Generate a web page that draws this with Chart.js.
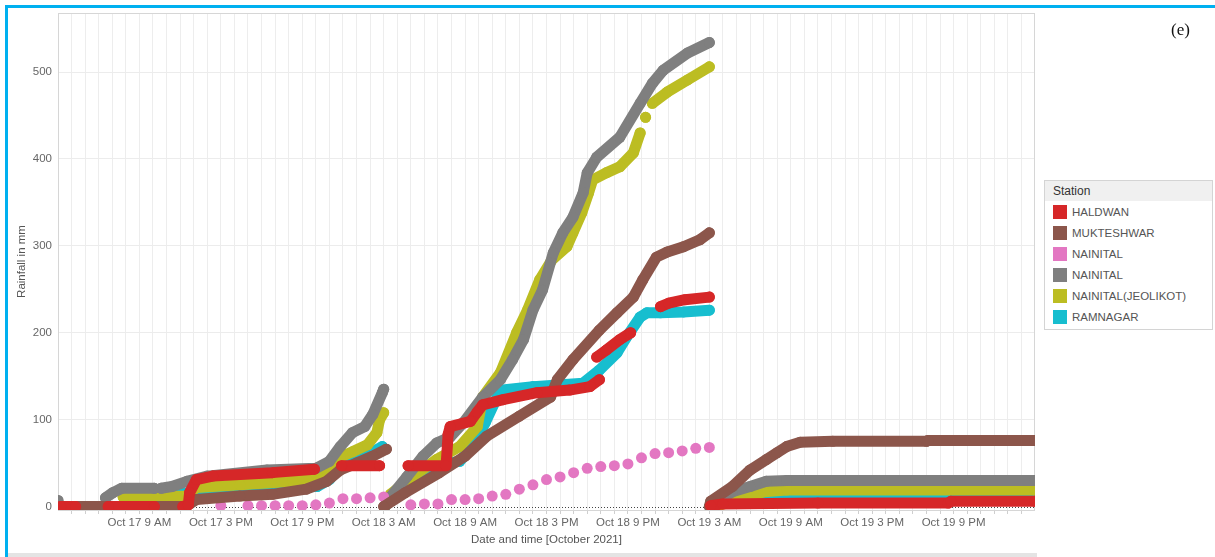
<!DOCTYPE html>
<html>
<head>
<meta charset="utf-8">
<script src="https://cdn.jsdelivr.net/npm/chart.js@4.4.1/dist/chart.umd.min.js"></script>
<style>
  html, body { margin: 0; padding: 0; background: #fff; }
  body { width: 1215px; height: 557px; position: relative; overflow: hidden; font-family: "Liberation Sans", Arial, sans-serif; }
  #frame { position: absolute; left: 5px; top: 5px; width: 1230px; height: 570px; border-top: 3px solid #00b0f0; border-left: 3px solid #00b0f0; }
  #strip { position: absolute; left: 8px; top: 553px; width: 1029px; height: 4px; background: #e4e4e4; }
  #wrap { position: absolute; left: 0; top: 0; width: 1215px; height: 557px; }
  #tag { position: absolute; left: 1171px; top: 20px; font-family: "Liberation Serif", "DejaVu Serif", serif; font-size: 17px; color: #111; }
  #legend { position: absolute; left: 1044px; top: 180px; width: 167px; border: 1px solid #d4d4d4; background: #fff; padding-bottom: 2px; }
  #legend .head { background: #f0f0f0; height: 20px; line-height: 21px; padding-left: 8px; font-size: 12px; color: #333; }
  #legend .row { height: 21px; display: flex; align-items: center; padding-left: 8px; font-size: 11.5px; color: #555; white-space: nowrap; }
  #legend .sw { width: 14px; height: 14px; margin-right: 5px; flex: none; }
</style>
</head>
<body>
<div id="frame"></div>
<div id="wrap"><canvas id="chart" width="1215" height="557"></canvas></div>
<div id="strip"></div>
<div id="tag">(e)</div>
<div id="legend"></div>
<script>
// Hours counted from Oct 17, 3 AM; null marks a break in a station's record.
const xTickHours = [6, 12, 18, 24, 30, 36, 42, 48, 54, 60, 66];
const xTickLabels = ['Oct 17 9 AM', 'Oct 17 3 PM', 'Oct 17 9 PM', 'Oct 18 3 AM', 'Oct 18 9 AM', 'Oct 18 3 PM',
                     'Oct 18 9 PM', 'Oct 19 3 AM', 'Oct 19 9 AM', 'Oct 19 3 PM', 'Oct 19 9 PM'];
const yTicks = [0, 100, 200, 300, 400, 500];

const stations = ['HALDWAN', 'MUKTESHWAR', 'NAINITAL', 'NAINITAL', 'NAINITAL(JEOLIKOT)', 'RAMNAGAR'];
const stationColors = ['#d62728', '#8c564b', '#e377c2', '#7f7f7f', '#bcbd22', '#17becf'];

const haldwanHours = [0.2, 1.3, null, 3.7, 7.1, null, 9.2, 9.6, 9.7, 10.2, 11.4, 15.8, 18.9, null,
  20.9, 23.7, null, 25.8, 28.6, 28.75, 28.9, 30.4, 30.9, 31.3, 32.8, 35.3, 37.7, 39.2, 39.9, null,
  39.7, 40.4, 41.4, 42.2, null, 44.4, 45.0, 46.2, 48.0, null, 48.1, 49, 56, 65.6, 65.8, 72];
const haldwanMm = [0, 0, null, 0, 0, null, 0, 2, 16, 31, 35, 39, 43, null,
  47, 47, null, 47, 47, 83, 92, 98, 109, 117, 123, 131, 134, 138, 146, null,
  172, 180, 192, 200, null, 230, 234, 238, 241, null, 1, 3, 4, 4, 6, 6];

const mukteshwarHours = [0.5, 9.4, 10.2, 13.4, 15.8, 18.3, 19.8, 20.8, 22.0, 23.2, 24.2, null,
  24.0, 25.6, 28.1, 30.0, 31.6, 34.0, 36.3, 36.8, 37.95, 39.9, 41.2, 42.4, 43.1, 44.1, 44.9, 46.1, 47.3, 48.0, null,
  48.0, 48.1, 49.7, 51.0, 52.2, 53.0, 53.7, 54.7, 57.1, 64.0, 64.1, 72];
const mukteshwarMm = [0, 0, 8, 12, 14, 20, 29, 42, 50, 58, 66, null,
  0, 16, 39, 58, 81, 104, 126, 146, 169, 203, 223, 241, 261, 287, 293, 299, 307, 315, null,
  0, 6, 23, 42, 54, 62, 69, 74, 75, 75, 76, 76];

const nainitalHours = [12, 14, 15, 16, 17, 18, 19, 20, 21, 22, 23, 24, 26, 27, 28, 29, 30, 31, 32, 33,
  34, 35, 36, 37, 38, 39, 40, 41, 42, 43, 44, 45, 46, 47, 48];
const nainitalMm = [1, 1, 1, 1, 1, 1, 2, 4, 9, 9, 10, 11, 2, 3, 3, 8, 8, 9, 12, 14,
  20, 25, 31, 34, 39, 44, 46, 47, 49, 56, 61, 62, 64, 67, 68];

const nainitalGreyHours = [0, null, 3.5, 4.05, 4.7, 7.1, null, 7.6, 8.4, 9.5, 11, 15.4, 19.0, 20.0, 20.8, 21.7,
  22.6, 23.2, 23.9, 24.0, null,
  24.1, 24.5, 25.7, 26.9, 27.9, 28.9, 29.9, 31.3, 32.6, 33.5, 34.3, 35.0, 35.7, 36.5, 37.2, 37.95, 38.7,
  39.0, 39.7, 41.4, 42.9, 43.8, 44.6, 46.4, 48.0, null,
  48.1, 49.7, 51.0, 52.2, 53.7, 72];
const nainitalGreyMm = [7, null, 10, 16, 21, 21, null, 21, 23, 29, 35, 42, 44, 52, 69, 85,
  92, 106, 131, 135, null,
  0, 11, 34, 58, 73, 80, 97, 126, 146, 169, 192, 226, 249, 292, 315, 333, 361,
  384, 402, 425, 464, 487, 502, 522, 534, null,
  0, 17, 23, 29, 30, 30];

const jeolikotHours = [4.8, 9.5, 10.2, 13.4, 17.3, 19.1, 20.0, 20.8, 21.7, 22.8, 23.5, 23.7, 24.0, null,
  24.1, 24.5, 26.1, 27.9, 29.6, 30.9, 31.3, 32.6, 33.8, 34.6, 35.5, 36.4, 37.5, 37.95, 38.6, 39.1, 39.4,
  40.4, 41.4, 42.4, 42.9, null, 43.3, null, 43.8, 44.9, 46.4, 48.0, null,
  48.3, 50.3, 52.0, 53.7, 72];
const jeolikotMm = [11, 12, 22, 25, 29, 35, 46, 57, 63, 71, 85, 100, 108, null,
  0, 14, 34, 54, 69, 92, 126, 154, 200, 226, 261, 284, 299, 315, 338, 361, 376,
  384, 391, 407, 430, null, 448, null, 464, 477, 491, 506, null,
  0, 8, 17, 19, 19];

const ramnagarHours = [6.8, 7.5, 9.7, 11.0, 15.8, 19.1, 20.0, 20.8, 21.3, 23.2, 23.9, null,
  24.1, 24.5, 26.7, 28.7, 29.6, 30.4, 31.1, 31.5, 32.6, 35.0, 38.7, 39.9, 41.2, 41.9, 42.9, 43.4, 44.4, 46.1, 48.0, null,
  48.4, 49.3, 51.0, 55, 72];
const ramnagarMm = [8, 12, 16, 20, 22, 23, 31, 46, 54, 63, 69, null,
  0, 11, 31, 50, 52, 66, 85, 97, 134, 138, 142, 157, 177, 195, 218, 223, 223, 224, 226, null,
  0, 6, 10, 11, 11];

// Pair hour/value lists into points; a null value becomes a line break.
function toPoints(hours, mm) {
  let last = 0;
  return hours.map((h, i) => {
    if (mm[i] === null) return { x: last, y: null };
    last = h;
    return { x: h, y: mm[i] };
  });
}

function bandSeries(i, hours, mm) {
  return {
    label: stations[i],
    data: toPoints(hours, mm),
    showLine: true,
    spanGaps: false,
    borderColor: stationColors[i],
    backgroundColor: stationColors[i],
    borderWidth: 11,
    borderCapStyle: 'round',
    borderJoinStyle: 'round',
    pointRadius: 5.5,
    pointBorderWidth: 0,
    pointHoverRadius: 5.5
  };
}

const datasets = [
  bandSeries(0, haldwanHours, haldwanMm),
  bandSeries(1, mukteshwarHours, mukteshwarMm),
  {
    label: stations[2],
    data: toPoints(nainitalHours, nainitalMm),
    showLine: false,
    borderColor: stationColors[2],
    backgroundColor: stationColors[2],
    pointRadius: 5.5,
    pointBorderWidth: 0,
    pointHoverRadius: 5.5
  },
  bandSeries(3, nainitalGreyHours, nainitalGreyMm),
  bandSeries(4, jeolikotHours, jeolikotMm),
  bandSeries(5, ramnagarHours, ramnagarMm)
];

// Plot frame and dotted zero reference, under the data.
const framePlugin = {
  id: 'frameAndZero',
  beforeDatasetsDraw(chart) {
    const { ctx, chartArea: a, scales } = chart;
    ctx.save();
    ctx.strokeStyle = '#d6d6d6';
    ctx.lineWidth = 1;
    ctx.strokeRect(a.left + 0.5, a.top + 0.5, a.right - a.left - 1, a.bottom - a.top);
    const y0 = Math.round(scales.y.getPixelForValue(0)) + 0.5;
    ctx.strokeStyle = '#444';
    ctx.setLineDash([1, 2]);
    ctx.beginPath();
    ctx.moveTo(a.left, y0);
    ctx.lineTo(a.right, y0);
    ctx.stroke();
    ctx.restore();
  }
};

const tickFont = { family: '"Liberation Sans", Arial, sans-serif', size: 11.5 };

const chart = new Chart(document.getElementById('chart'), {
  type: 'scatter',
  data: { datasets },
  plugins: [framePlugin],
  options: {
    responsive: false,
    animation: false,
    devicePixelRatio: 1,
    layout: { padding: { left: 0, top: 13, right: 180, bottom: 0 } },
    plugins: { legend: { display: false }, tooltip: { enabled: false } },
    scales: {
      x: {
        type: 'linear',
        min: 0,
        max: 72,
        afterBuildTicks(scale) {
          const t = [];
          for (let h = 1; h < 72; h++) t.push({ value: h });
          scale.ticks = t;
        },
        afterFit(scale) { scale.height = 47; },
        border: { display: false },
        grid: { color: '#ededed', lineWidth: 1, drawTicks: true, tickLength: 4, tickColor: '#cfcfcf' },
        ticks: {
          autoSkip: false,
          maxRotation: 0,
          padding: 2,
          color: '#666',
          font: tickFont,
          callback(value) {
            const i = xTickHours.indexOf(value);
            return i >= 0 ? xTickLabels[i] : '';
          }
        },
        title: {
          display: true,
          text: 'Date and time [October 2021]',
          color: '#555',
          font: tickFont,
          padding: { top: 0, bottom: 10 }
        }
      },
      y: {
        min: -4,
        max: 568,
        afterBuildTicks(scale) { scale.ticks = yTicks.map(v => ({ value: v })); },
        afterFit(scale) { scale.width = 58; },
        border: { display: false },
        grid: {
          drawTicks: false,
          color: (c) => (c.tick && c.tick.value === 0 ? 'rgba(0,0,0,0)' : '#ececec')
        },
        ticks: { padding: 6, color: '#666', font: tickFont },
        title: {
          display: true,
          text: 'Rainfall in mm',
          color: '#555',
          font: tickFont,
          padding: { top: 15, bottom: 0 }
        }
      }
    }
  }
});

// Station key built from the chart's own datasets.
const legend = document.getElementById('legend');
const head = document.createElement('div');
head.className = 'head';
head.textContent = 'Station';
legend.appendChild(head);
chart.data.datasets.forEach(ds => {
  const row = document.createElement('div');
  row.className = 'row';
  const sw = document.createElement('span');
  sw.className = 'sw';
  sw.style.background = ds.backgroundColor;
  const txt = document.createElement('span');
  txt.textContent = ds.label;
  row.appendChild(sw);
  row.appendChild(txt);
  legend.appendChild(row);
});
</script>
</body>
</html>
